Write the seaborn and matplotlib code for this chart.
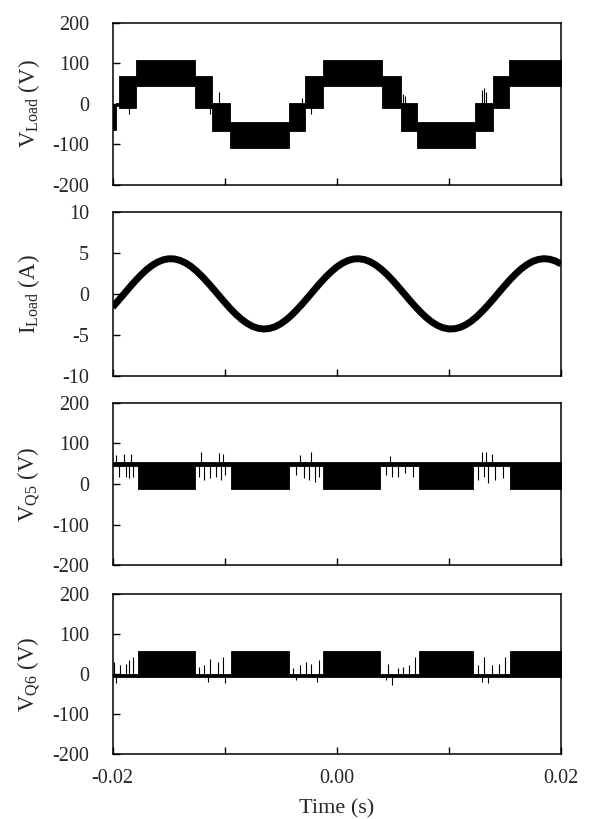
import matplotlib
matplotlib.use("Agg")
import matplotlib.pyplot as plt
import seaborn as sns

# Time axis
time_ticks = [-0.02, -0.01, 0.00, 0.01, 0.02]
time_labels = ["-0.02", "", "0.00", "", "0.02"]

# Load voltage: staircase steps (edges in s) and the PWM band in each step (V)
vload_edges = [-0.0200, -0.0197, -0.0194, -0.0179, -0.0126, -0.0111, -0.0095, -0.0043,
               -0.0028, -0.0012, 0.0040, 0.0057, 0.0072, 0.0123, 0.0139, 0.0154, 0.0200]
vload_low = [-65, -5, -10, 45, -10, -68, -110, -68, -10, 45, -10, -68, -110, -68, -10, 45]
vload_high = [0, 2, 68, 108, 68, 2, -45, 2, 68, 108, 68, 2, -45, 2, 68, 108]
vload_spike_t = [-0.01850, -0.01130, -0.01046, -0.00326, -0.00310, -0.00226, 0.00594,
                 0.00611, 0.01297, 0.01314, 0.01330]
vload_spike_v = [-25, -25, 30, -45, 15, -25, 25, 20, 35, 40, 30]

# Load current, read every 0.5 ms (A)
iload_t = [-0.0200, -0.0195, -0.0190, -0.0185, -0.0180, -0.0175, -0.0170, -0.0165, -0.0160,
           -0.0155, -0.0150, -0.0145, -0.0140, -0.0135, -0.0130, -0.0125, -0.0120, -0.0115,
           -0.0110, -0.0105, -0.0100, -0.0095, -0.0090, -0.0085, -0.0080, -0.0075, -0.0070,
           -0.0065, -0.0060, -0.0055, -0.0050, -0.0045, -0.0040, -0.0035, -0.0030, -0.0025,
           -0.0020, -0.0015, -0.0010, -0.0005, 0.0000, 0.0005, 0.0010, 0.0015, 0.0020,
           0.0025, 0.0030, 0.0035, 0.0040, 0.0045, 0.0050, 0.0055, 0.0060, 0.0065,
           0.0070, 0.0075, 0.0080, 0.0085, 0.0090, 0.0095, 0.0100, 0.0105, 0.0110,
           0.0115, 0.0120, 0.0125, 0.0130, 0.0135, 0.0140, 0.0145, 0.0150, 0.0155,
           0.0160, 0.0165, 0.0170, 0.0175, 0.0180, 0.0185, 0.0190, 0.0195, 0.0200]
iload_a = [-1.63, -0.85, -0.05, 0.76, 1.54, 2.26, 2.91, 3.45, 3.87, 4.15, 4.29, 4.27, 4.10,
           3.79, 3.35, 2.78, 2.11, 1.37, 0.59, -0.22, -1.02, -1.79, -2.49, -3.10, -3.60,
           -3.98, -4.21, -4.30, -4.23, -4.02, -3.66, -3.17, -2.57, -1.87, -1.12, -0.32,
           0.49, 1.28, 2.03, 2.70, 3.28, 3.74, 4.07, 4.26, 4.29, 4.18, 3.91, 3.51, 2.98,
           2.35, 1.63, 0.85, 0.05, -0.76, -1.54, -2.26, -2.91, -3.45, -3.87, -4.15, -4.29,
           -4.27, -4.10, -3.79, -3.35, -2.78, -2.11, -1.37, -0.59, 0.22, 1.02, 1.79, 2.49,
           3.10, 3.60, 3.98, 4.21, 4.30, 4.23, 4.02, 3.66]

# Switch voltages Q5 / Q6: switching edges (s) and band per segment (V)
q_edges = [-0.0200, -0.0177, -0.0126, -0.0094, -0.0043, -0.0012, 0.0039, 0.0073, 0.0122,
           0.0155, 0.0200]
vq5_low = [45, -12, 45, -12, 45, -12, 45, -12, 45, -12]
vq5_high = [55, 55, 55, 55, 55, 55, 55, 55, 55, 55]
vq5_spike_t = [-0.01940, -0.01883, -0.01849, -0.01816, -0.01967, -0.01900, -0.01833,
               -0.01230, -0.01180, -0.01130, -0.01080, -0.01029, -0.00996, -0.01213, -0.01046, -0.01013,
               -0.00360, -0.00293, -0.00243, -0.00193, -0.00159, -0.00326, -0.00226,
               0.00443, 0.00494, 0.00544, 0.00611, 0.00678, 0.00477,
               0.01263, 0.01314, 0.01347, 0.01414, 0.01481, 0.01297, 0.01330, 0.01381]
vq5_spike_v = [18, 18, 14, 18, 71, 74, 75,
               18, 10, 14, 18, 10, 22, 80, 77, 75,
               22, 14, 10, 6, 18, 71, 80,
               22, 18, 18, 26, 18, 69,
               10, 18, 2, 10, 14, 80, 80, 75]
vq6_low = [-8, -8, -8, -8, -8, -8, -8, -8, -8, -8]
vq6_high = [0, 57, 0, 57, 0, 57, 0, 57, 0, 57]
vq6_spike_t = [-0.01983, -0.01933, -0.01883, -0.01849, -0.01816, -0.01967,
               -0.01230, -0.01180, -0.01130, -0.01063, -0.01013, -0.01146, -0.00996,
               -0.00393, -0.00326, -0.00276, -0.00226, -0.00159, -0.00360, -0.00176,
               0.00460, 0.00544, 0.00594, 0.00644, 0.00694, 0.00443, 0.00494,
               0.01263, 0.01314, 0.01381, 0.01448, 0.01498, 0.01297, 0.01347]
vq6_spike_v = [30, 22, 26, 34, 43, -23,
               18, 22, 38, 30, 43, -19, -23,
               14, 22, 30, 26, 34, -15, -19,
               26, 14, 18, 22, 43, -15, -27,
               22, 43, 22, 26, 43, -19, -23]

sns.set_style("ticks")
plt.rcParams["font.family"] = ["Liberation Serif", "DejaVu Serif"]
plt.rcParams["mathtext.fontset"] = "custom"
plt.rcParams["mathtext.rm"] = "Liberation Serif"
plt.rcParams["mathtext.it"] = "Liberation Serif:italic"
plt.rcParams["axes.unicode_minus"] = False

fig = plt.figure(figsize=(5.9, 8.19), dpi=100)
left, width = 0.1907, 0.760
boxes = [(0.7741, 0.1982), (0.5413, 0.1998), (0.3101, 0.1979), (0.0794, 0.1953)]
axes = [fig.add_axes([left, b, width, h]) for b, h in boxes]


def band(ax, edges, low, high):
    lo = list(low) + [low[-1]]
    hi = list(high) + [high[-1]]
    ax.fill_between(edges, lo, hi, step="post", color="black", lw=0.6, edgecolor="black")


def spikes(ax, t, v, base):
    ax.vlines(t, [base] * len(t), v, color="black", lw=0.8)


# V Load
ax = axes[0]
band(ax, vload_edges, vload_low, vload_high)
spikes(ax, vload_spike_t, vload_spike_v, 0)
ax.set_ylim(-200, 200)
ax.set_yticks([-200, -100, 0, 100, 200])
ax.set_ylabel(r"V$_{\mathrm{Load}}$ (V)")

# I Load
ax = axes[1]
sns.lineplot(x=iload_t, y=iload_a, ax=ax, color="black", lw=5,
             solid_joinstyle="round", solid_capstyle="butt")
ax.set_ylim(-10, 10)
ax.set_yticks([-10, -5, 0, 5, 10])
ax.set_ylabel(r"I$_{\mathrm{Load}}$ (A)")

# V Q5
ax = axes[2]
band(ax, q_edges, vq5_low, vq5_high)
spikes(ax, vq5_spike_t, vq5_spike_v, 50)
ax.set_ylim(-200, 200)
ax.set_yticks([-200, -100, 0, 100, 200])
ax.set_ylabel(r"V$_{\mathrm{Q5}}$ (V)")

# V Q6
ax = axes[3]
band(ax, q_edges, vq6_low, vq6_high)
spikes(ax, vq6_spike_t, vq6_spike_v, -4)
ax.set_ylim(-200, 200)
ax.set_yticks([-200, -100, 0, 100, 200])
ax.set_ylabel(r"V$_{\mathrm{Q6}}$ (V)")

for i, ax in enumerate(axes):
    ax.set_xlim(-0.02, 0.02)
    ax.set_xticks(time_ticks)
    if i == 3:
        ax.set_xticklabels(time_labels)
        ax.set_xlabel("Time (s)", fontsize=16)
        ax.xaxis.set_label_coords(0.5, -0.285)
    else:
        ax.set_xticklabels([])
    ax.tick_params(direction="in", length=5, width=1, labelsize=14.5, color="black")
    ax.tick_params(axis="y", pad=17)
    ax.tick_params(axis="x", pad=11)
    ax.yaxis.label.set_fontsize(16.5)
    ax.yaxis.set_label_coords(-0.157, 0.5)
    for s in ax.spines.values():
        s.set_linewidth(1.1)
        s.set_color("black")

fig.savefig("out.png", dpi=100)
